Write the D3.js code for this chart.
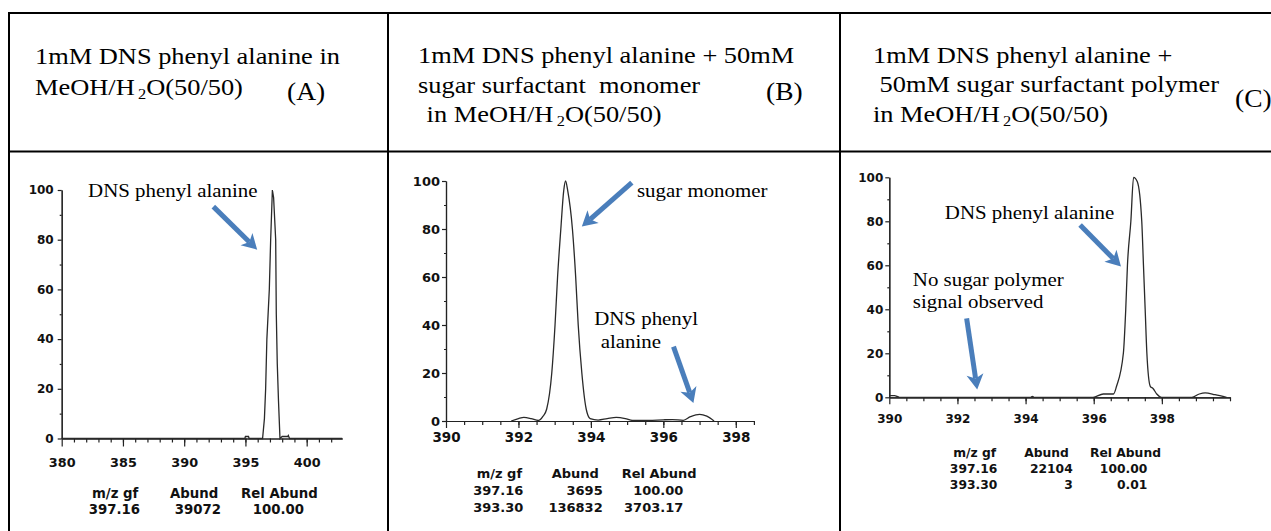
<!DOCTYPE html>
<html>
<head>
<meta charset="utf-8">
<script src="https://cdn.jsdelivr.net/npm/d3@7"></script>
<style>
body{margin:0;background:#fff;}
svg{display:block;}
text{white-space:pre;}
</style>
</head>
<body>
<svg id="canves" width="1271" height="531"></svg>
<script>
// spectrum A: DNS phenyl alanine alone
let mzA  = [380, 394.95, 395.0, 395.25, 395.3, 396.4, 396.55, 396.65, 396.75, 396.95, 397.06, 397.2, 397.3, 397.47, 397.52, 397.6, 397.7, 397.82, 398.0, 398.45, 398.5, 398.6, 402.9];
let relA = [0,   0,      0.8,   0.8,    0,     0,     8,      20,     40,     60,     80,     100,   97,    80,     50,     30,    15,    0,      0.8,   0.8,    1.2,   0,     0];

// spectrum B: + sugar surfactant monomer
let mzB  = [391.8, 392.0, 392.15, 392.35, 392.55, 392.68, 392.78, 392.92, 393.01, 393.08, 393.17, 393.25, 393.3, 393.36, 393.49, 393.58, 393.65, 393.75, 393.87, 393.98, 394.2, 394.45, 394.7, 394.95, 395.15, 395.6, 396.0, 396.25, 396.55, 396.75, 397.0, 397.2, 397.4];
let relB = [0,     1,     1.5,    1,      0.2,    2,      5,      20,     40,     60,     80,     96,     100,   96,     80,     60,     40,     20,     5,      1,      0.4,   1,     1.5,   1,      0.2,    0.2,   0.5,   0.6,    0.3,    1.8,    2.8,   2,     0];

// spectrum C: + sugar surfactant polymer
let mzC  = [390.0, 390.15, 390.3, 394.15, 394.2, 394.25, 395.98, 396.28, 396.58, 396.67, 396.87, 396.94, 396.99, 397.09, 397.17, 397.28, 397.41, 397.46, 397.51, 397.56, 397.66, 397.74, 397.85, 397.99, 398.88, 399.1, 399.27, 399.56, 399.9];
let relC = [0.8,   0.8,    0,     0,      0.4,   0,      0,      1.5,    1.5,    5,      20,     40,     60,     80,     100,    98,     80,     60,     40,     20,     5,      4,      1.5,    0,      0,      1.5,   2,      1.2,    0];

let yTicks = [0, 20, 40, 60, 80, 100];
let yMinorTicks = [10, 30, 50, 70, 90];
let xTicksA = [380, 385, 390, 395, 400];
let xTicksB = [390, 392, 394, 396, 398];
let xTicksC = [390, 392, 394, 396, 398];

let headerA = ["1mM DNS phenyl alanine in", "MeOH/H₂O(50/50)"];
let headerB = ["1mM DNS phenyl alanine + 50mM", "sugar surfactant  monomer", " in MeOH/H₂O(50/50)"];
let headerC = ["1mM DNS phenyl alanine +", " 50mM sugar surfactant polymer", "in MeOH/H₂O(50/50)"];
let tags = ["(A)", "(B)", "(C)"];

let tableHead = ["m/z gf", "Abund", "Rel Abund"];
let tableA = [["397.16", "39072", "100.00"]];
let tableB = [["397.16", "3695", "100.00"], ["393.30", "136832", "3703.17"]];
let tableC = [["397.16", "22104", "100.00"], ["393.30", "3", "0.01"]];

// annotations in data units [m/z, rel abund]
let notesA = [{text: "DNS phenyl alanine", at: [382.15, 97.2]}];
let notesB = [{text: "sugar monomer", at: [395.27, 93.3]}, {text: "DNS phenyl", at: [394.09, 40]}, {text: "alanine", at: [394.27, 30.3]}];
let notesC = [{text: "DNS phenyl alanine", at: [391.63, 80.9]}, {text: "No sugar polymer", at: [390.69, 50.6]}, {text: "signal observed", at: [390.69, 40.7]}];
let arrowsA = [[[392.38, 93.3], [395.96, 76]]];
let arrowsB = [[[395.13, 99.3], [393.75, 81]], [[396.28, 31], [396.83, 7.5]]];
let arrowsC = [[[395.6, 78.3], [396.8, 59.5]], [[392.27, 35.9], [392.58, 3.6]]];

let blue = "#4A7EBB";
let svg = d3.select("#canves");

// table grid
let grid = svg.append("g").attr("stroke", "#000").attr("stroke-width", 2);
grid.append("line").attr("x1", 8).attr("x2", 1271).attr("y1", 13).attr("y2", 13);
grid.append("line").attr("x1", 8).attr("x2", 1271).attr("y1", 151.5).attr("y2", 151.5);
[9, 388, 840].forEach(xv => {
  grid.append("line").attr("x1", xv).attr("x2", xv).attr("y1", 12).attr("y2", 531);
});

let serifText = (g, str, x, y, size) => {
  let t = g.append("text")
           .attr("transform", `translate(${x},${y}) scale(1.1,1)`)
           .attr("font-family", "'Liberation Serif', 'Times New Roman', serif")
           .attr("font-size", size)
           .attr("fill", "#000");
  let parts = str.split("₂");
  t.append("tspan").text(parts[0]);
  if (parts.length > 1) {
    t.append("tspan").attr("font-size", size * 0.62).attr("dx", 3).attr("dy", 4).text("2");
    t.append("tspan").attr("dy", -4).text(parts[1]);
  }
  return t;
};

let drawHeader = (lines, xs, ys, tag, tagX, tagY) => {
  let g = svg.append("g");
  lines.forEach((l, i) => serifText(g, l, xs[i], ys[i], 24));
  serifText(g, tag, tagX, tagY, 25);
};

drawHeader(headerA, [35, 35], [64, 95], tags[0], 287, 100);
drawHeader(headerB, [418, 418, 420], [63, 93, 122], tags[1], 766, 100);
drawHeader(headerC, [873, 873, 873], [63, 92, 122], tags[2], 1235, 107);

let drawArrow = (g, tail, tip) => {
  let dx = tip[0] - tail[0], dy = tip[1] - tail[1];
  let len = Math.sqrt(dx * dx + dy * dy);
  let ux = dx / len, uy = dy / len;
  let hl = 15, hw = 8.5, notch = 4;
  let bx = tip[0] - ux * hl, by = tip[1] - uy * hl;
  g.append("line")
   .attr("x1", tail[0]).attr("y1", tail[1])
   .attr("x2", bx + ux * notch).attr("y2", by + uy * notch)
   .attr("stroke", blue).attr("stroke-width", 5);
  g.append("path")
   .attr("d", `M${tip[0]},${tip[1]} L${bx - uy * hw},${by + ux * hw} L${bx + ux * notch},${by + uy * notch} L${bx + uy * hw},${by - ux * hw} Z`)
   .attr("fill", blue);
};

let drawPanel = (p) => {
  let x = d3.scaleLinear().domain(p.xDomain).range(p.xRange);
  let y = d3.scaleLinear().domain([0, 100]).range(p.yRange);
  let g = svg.append("g");
  let sans = "'DejaVu Sans', Verdana, sans-serif";

  // x axis: minor then major
  g.append("g")
   .attr("transform", `translate(0,${p.yRange[0]})`)
   .call(d3.axisBottom(x).tickValues(p.xMinor).tickSize(4).tickFormat("").tickSizeOuter(0));
  let xAx = g.append("g")
   .attr("transform", `translate(0,${p.yRange[0]})`)
   .call(d3.axisBottom(x).tickValues(p.xTicks).tickSize(p.majorSize).tickPadding(p.xPad).tickSizeOuter(0).tickFormat(d3.format("d")));
  xAx.selectAll("text").attr("font-family", sans).attr("font-weight", "bold").attr("font-size", p.xFont).attr("fill", "#111");

  // y axis
  g.append("g")
   .attr("transform", `translate(${p.xRange[0]},0)`)
   .call(d3.axisLeft(y).tickValues(yMinorTicks).tickSize(2).tickFormat("").tickSizeOuter(0));
  let yAx = g.append("g")
   .attr("transform", `translate(${p.xRange[0]},0)`)
   .call(d3.axisLeft(y).tickValues(yTicks).tickSize(4).tickPadding(p.yPad).tickSizeOuter(0));
  yAx.selectAll("text").attr("font-family", sans).attr("font-weight", "bold").attr("font-size", p.yFont).attr("fill", "#111");
  g.selectAll(".domain, .tick line").attr("stroke", "#222").attr("stroke-width", 1.2);

  // spectrum trace
  let pts = p.mz.map((m, i) => [m, p.rel[i]]);
  g.append("path")
   .datum(pts)
   .attr("d", d3.line().x(d => x(d[0])).y(d => y(d[1])).curve(p.curve))
   .attr("fill", "none")
   .attr("stroke", "#2a2a2a")
   .attr("stroke-width", 1.3);

  // annotations
  p.notes.forEach(n => serifText(g, n.text, x(n.at[0]), y(n.at[1]), 19));
  p.arrows.forEach(a => drawArrow(g, [x(a[0][0]), y(a[0][1])], [x(a[1][0]), y(a[1][1])]));

  // peak table
  let tb = g.append("g").attr("font-family", sans).attr("font-weight", "bold").attr("font-size", p.tFont).attr("fill", "#111");
  tableHead.forEach((h, i) => {
    tb.append("text").attr("x", p.headX[i]).attr("y", p.headY).text(h);
  });
  p.table.forEach((row, r) => {
    row.forEach((v, i) => {
      tb.append("text")
        .attr("x", p.colRight[i])
        .attr("y", p.headY + p.rowStep * (r + 1))
        .attr("text-anchor", "end")
        .text(v);
    });
  });
};

drawPanel({
  mz: mzA, rel: relA, curve: d3.curveLinear,
  xDomain: [380, 402.9], xRange: [61.7, 342.2], yRange: [438.5, 190],
  xTicks: xTicksA, xMinor: d3.range(381, 403, 1), majorSize: 8, xPad: 11, xFont: 12.8,
  yPad: 4, yFont: 12,
  notes: notesA, arrows: arrowsA,
  table: tableA, tFont: 13.3, headX: [92, 170, 241], headY: 498, rowStep: 16, colRight: [140, 221, 304]
});

drawPanel({
  mz: mzB, rel: relB, curve: d3.curveMonotoneX,
  xDomain: [390, 398.5], xRange: [446, 753.9], yRange: [421, 181],
  xTicks: xTicksB, xMinor: d3.range(390.5, 398.6, 0.5), majorSize: 7, xPad: 4, xFont: 13.5,
  yPad: 2, yFont: 13,
  notes: notesB, arrows: arrowsB,
  table: tableB, tFont: 13, headX: [476.7, 551.7, 621.7], headY: 478.3, rowStep: 17, colRight: [523.3, 602.7, 683.3]
});

drawPanel({
  mz: mzC, rel: relC, curve: d3.curveMonotoneX,
  xDomain: [390, 400], xRange: [889.3, 1230], yRange: [397.3, 177.3],
  xTicks: xTicksC, xMinor: d3.range(390.5, 400.1, 0.5), majorSize: 7, xPad: 10, xFont: 12,
  yPad: 2, yFont: 12,
  notes: notesC, arrows: arrowsC,
  table: tableC, tFont: 12.3, headX: [953.3, 1024.3, 1090], headY: 456.7, rowStep: 16, colRight: [997.3, 1072.7, 1147.3]
});
</script>
</body>
</html>
